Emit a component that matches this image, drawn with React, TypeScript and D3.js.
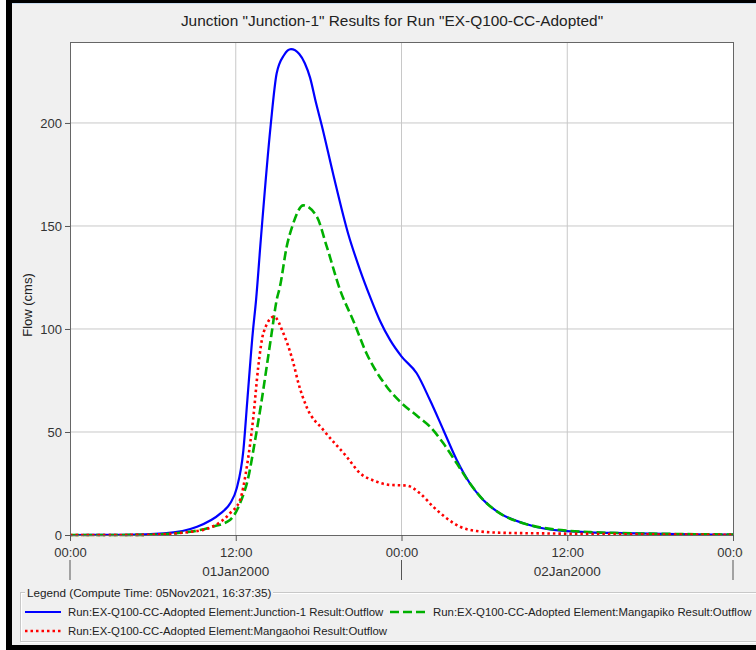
import React, { useEffect, useRef } from 'react';
import * as d3 from 'd3';

// Junction-1 outflow (hours since 01Jan2000 00:00, cms)
const junctionHours = [0, 4, 6.8, 9.2, 10.9, 11.6, 12.07, 12.55, 12.84, 13.23, 13.47, 13.81, 14.53, 14.96, 15.5, 16.0, 16.6, 17.0, 17.38, 17.8, 18.22, 19.06, 20.15, 21.0, 21.72, 22.44, 23.17, 24.01, 25.1, 26.06, 27.03, 28.0, 28.96, 29.92, 31.13, 32.82, 34.51, 35.96, 37.65, 40, 44, 48];
const junctionFlow = [0, 0.1, 0.8, 4, 10.5, 15.4, 22.7, 41, 65.5, 98, 114, 143, 199, 224, 233, 235.8, 233.5, 229, 222, 210, 199, 175, 146, 128.6, 115.7, 104, 94.7, 86.6, 78.5, 65.5, 51, 36.4, 25, 17, 10.5, 5.7, 2.9, 1.9, 1.3, 0.9, 0.4, 0.2];

// Mangapiko outflow
const mangapikoHours = [0, 5, 8.7, 10.3, 11.58, 12.31, 12.91, 13.4, 13.88, 14.24, 14.6, 14.96, 15.2, 15.69, 16.1, 16.89, 17.87, 18.59, 19.55, 20.51, 21.48, 22.93, 24.01, 25.1, 26.06, 27.03, 28.0, 28.96, 29.92, 31.13, 32.82, 34.51, 35.96, 37.65, 40, 44, 48];
const mangapikoFlow = [0, 0.05, 1.6, 4, 7.3, 15.4, 28, 46, 65.5, 81.7, 98, 114, 120.5, 140, 150, 160, 154.5, 140, 119, 104, 88, 72, 64, 58, 52.6, 44.5, 34.8, 25, 17, 10.5, 5.7, 3.2, 2.1, 1.4, 0.9, 0.5, 0.2];

// Mangaohoi outflow
const mangaohoiHours = [0, 5, 8.7, 10.3, 11.58, 12.31, 12.8, 13.27, 13.63, 14.0, 14.77, 15.44, 16.17, 16.54, 17.14, 18.34, 20.03, 21.0, 22.08, 23.17, 24.38, 25.34, 26.3, 27.27, 28.24, 29.44, 31.13, 34, 38, 42, 48];
const mangaohoiFlow = [0, 0.05, 1.5, 4, 10.5, 17, 33, 57, 81.7, 98, 106, 98, 83.5, 73.6, 62, 51, 38, 30, 26.2, 24.3, 24, 20.2, 13.7, 8.1, 4, 1.9, 1.1, 0.8, 0.5, 0.3, 0.1];

const timeTicks = [0, 12, 24, 36, 48];
const timeLabels = ['00:00', '12:00', '00:00', '12:00', '00:00'];
const dayBreaks = [0, 24, 48];
const dayCenters = [12, 36];
const dayLabels = ['01Jan2000', '02Jan2000'];
const flowTicks = [0, 50, 100, 150, 200];

const chartTitle = 'Junction "Junction-1" Results for Run "EX-Q100-CC-Adopted"';
const legendTitle = 'Legend (Compute Time: 05Nov2021, 16:37:35)';
const seriesNames = [
  'Run:EX-Q100-CC-Adopted Element:Junction-1 Result:Outflow',
  'Run:EX-Q100-CC-Adopted Element:Mangapiko Result:Outflow',
  'Run:EX-Q100-CC-Adopted Element:Mangaohoi Result:Outflow',
];

const App = () => {
  const ref = useRef<HTMLDivElement>(null);

  useEffect(() => {
    const W = 756;
    const H = 650;
    const margin = { top: 42, left: 70 };
    const width = 663;
    const height = 493;
    const font = 'Arial, "Liberation Sans", sans-serif';

    d3.select(ref.current).select('svg').remove();

    const root = d3
      .select(ref.current)
      .append('svg')
      .attr('width', W)
      .attr('height', H)
      .style('display', 'block')
      .style('font-family', font);

    // window frame
    root.append('rect').attr('width', W).attr('height', H).attr('fill', '#fff');
    root.append('rect').attr('x', 6).attr('y', 0).attr('width', W).attr('height', H).attr('fill', '#000');
    root.append('rect').attr('x', 12).attr('y', 3).attr('width', W).attr('height', 642).attr('fill', '#c9dcf0');
    root.append('rect').attr('x', 12).attr('y', 4).attr('width', W).attr('height', 641).attr('fill', '#f0f0f0');

    root.append('text')
      .attr('x', 392)
      .attr('y', 26)
      .attr('text-anchor', 'middle')
      .attr('font-size', 15.4)
      .attr('fill', '#222')
      .text(chartTitle);

    const x = d3.scaleLinear().domain([0, 48]).range([0, width]);
    const y = d3.scaleLinear().domain([0, 239.3]).range([height, 0]);

    const svg = root.append('g').attr('transform', `translate(${margin.left},${margin.top})`);

    svg.append('rect').attr('width', width).attr('height', height).attr('fill', '#fff');

    // grid
    svg.selectAll('.vgrid')
      .data(timeTicks.slice(1, -1))
      .enter()
      .append('line')
      .attr('x1', d => x(d)).attr('x2', d => x(d))
      .attr('y1', 0).attr('y2', height)
      .attr('stroke', '#c8c8c8');
    svg.selectAll('.hgrid')
      .data(flowTicks.slice(1))
      .enter()
      .append('line')
      .attr('x1', 0).attr('x2', width)
      .attr('y1', d => y(d)).attr('y2', d => y(d))
      .attr('stroke', '#c8c8c8');

    svg.append('rect')
      .attr('x', 0.5).attr('y', 0.5)
      .attr('width', width).attr('height', height)
      .attr('fill', 'none')
      .attr('stroke', '#666');

    // series
    svg.append('clipPath').attr('id', 'plot-clip')
      .append('rect').attr('width', width).attr('height', height + 2);

    const series = [
      { hours: junctionHours, flow: junctionFlow, color: '#0000ff', dash: null, w: 2.2 },
      { hours: mangapikoHours, flow: mangapikoFlow, color: '#00b000', dash: '9,4', w: 2.6 },
      { hours: mangaohoiHours, flow: mangaohoiFlow, color: '#ff0000', dash: '2.5,3', w: 2.6 },
    ];

    const line = d3.line<[number, number]>()
      .x(d => x(d[0]))
      .y(d => y(d[1]))
      .curve(d3.curveMonotoneX);

    series.forEach(s => {
      const pts = s.hours.map((h, i) => [h, s.flow[i]] as [number, number]);
      svg.append('path')
        .attr('clip-path', 'url(#plot-clip)')
        .attr('d', line(pts))
        .attr('fill', 'none')
        .attr('stroke', s.color)
        .attr('stroke-width', s.w)
        .attr('stroke-dasharray', s.dash);
    });

    // axes
    const yAxis = svg.append('g')
      .call(d3.axisLeft(y).tickValues(flowTicks).tickSize(5).tickSizeOuter(0).tickPadding(3));
    yAxis.select('.domain').attr('stroke', '#666');
    yAxis.selectAll('line').attr('stroke', '#555');
    yAxis.selectAll('text').attr('fill', '#333').attr('font-size', 13).attr('font-family', font);

    svg.append('clipPath').attr('id', 'xlabel-clip')
      .append('rect').attr('x', -margin.left).attr('y', 0).attr('width', 743).attr('height', 120);

    const xAxis = svg.append('g')
      .attr('transform', `translate(0,${height})`)
      .attr('clip-path', 'url(#xlabel-clip)')
      .call(d3.axisBottom(x).tickValues(timeTicks).tickFormat((d, i) => timeLabels[i]).tickSize(6).tickSizeOuter(0).tickPadding(7));
    xAxis.select('.domain').attr('stroke', '#666');
    xAxis.selectAll('line').attr('stroke', '#555');
    xAxis.selectAll('text').attr('fill', '#333').attr('font-size', 13).attr('font-family', font);

    svg.selectAll('.daybreak')
      .data(dayBreaks)
      .enter()
      .append('line')
      .attr('x1', d => x(d)).attr('x2', d => x(d))
      .attr('y1', height + 25).attr('y2', height + 45)
      .attr('stroke', '#555');

    svg.selectAll('.daylabel')
      .data(dayCenters)
      .enter()
      .append('text')
      .attr('x', d => x(d))
      .attr('y', height + 41)
      .attr('text-anchor', 'middle')
      .attr('font-size', 13.5)
      .attr('fill', '#333')
      .text((d, i) => dayLabels[i]);

    root.append('text')
      .attr('transform', 'translate(32,305) rotate(-90)')
      .attr('text-anchor', 'middle')
      .attr('font-size', 13)
      .attr('fill', '#222')
      .text('Flow (cms)');

    // legend
    const lg = root.append('g');
    lg.append('rect')
      .attr('x', 21.5).attr('y', 593.5).attr('width', 800).attr('height', 49)
      .attr('fill', 'none').attr('stroke', '#fff');
    lg.append('rect')
      .attr('x', 20.5).attr('y', 592.5).attr('width', 800).attr('height', 49)
      .attr('fill', 'none').attr('stroke', '#c8c8c8');
    lg.append('rect')
      .attr('x', 25).attr('y', 585).attr('width', 248).attr('height', 14)
      .attr('fill', '#f0f0f0');
    lg.append('text')
      .attr('x', 27).attr('y', 597)
      .attr('font-size', 11.7)
      .attr('fill', '#222')
      .text(legendTitle);

    const items = [
      { sx: 25, sy: 612, tx: 68 },
      { sx: 390, sy: 612, tx: 433 },
      { sx: 25, sy: 631, tx: 68 },
    ];
    items.forEach((it, i) => {
      const s = series[i];
      lg.append('line')
        .attr('x1', it.sx).attr('x2', it.sx + 36)
        .attr('y1', it.sy).attr('y2', it.sy)
        .attr('stroke', s.color)
        .attr('stroke-width', s.w)
        .attr('stroke-dasharray', s.dash);
      lg.append('text')
        .attr('x', it.tx).attr('y', it.sy + 4)
        .attr('font-size', 11.4)
        .attr('fill', '#222')
        .text(seriesNames[i]);
    });
  }, []);

  return (
    <div ref={ref} style={{ position: 'absolute', left: 0, top: 0 }}></div>
  );
};

export default App;
